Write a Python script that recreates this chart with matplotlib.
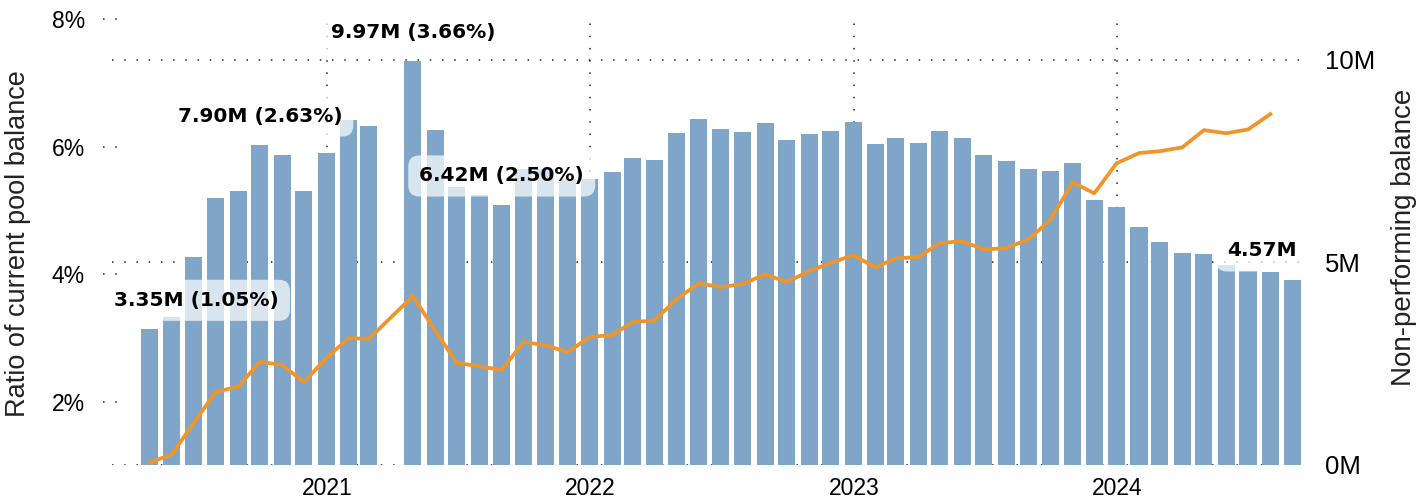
import numpy as np
import pandas as pd
import matplotlib
matplotlib.use('Agg')
import matplotlib.pyplot as plt
import matplotlib.dates as mdates
import matplotlib.transforms as mtransforms

plt.rcParams['font.family'] = ['Liberation Sans', 'DejaVu Sans']

# monthly snapshots (month-end of previous month), Mar 2021 missing
dates = pd.date_range('2020-05-01', '2024-09-01', freq='MS') - pd.Timedelta(days=1)
dates = dates[dates != pd.Timestamp('2021-03-31')]

# non-performing balance, millions
balance = [3.35, 3.65, 5.14, 6.59, 6.77, 7.90, 7.65, 6.77, 7.70, 8.52, 8.37,
           9.97, 8.27, 6.86, 6.67, 6.42, 7.30, 7.30, 7.05, 7.05,
           7.23, 7.58, 7.53, 8.20, 8.54, 8.30, 8.22, 8.44, 8.02, 8.17, 8.25,
           8.47, 7.93, 8.07, 7.95, 8.25, 8.07, 7.65, 7.51, 7.31, 7.26, 7.46, 6.54,
           6.37, 5.88, 5.51, 5.23, 5.21, 4.93, 4.79, 4.77, 4.57]

# ratio of current pool balance, %
ratio = [1.05, 1.18, 1.67, 2.16, 2.24, 2.63, 2.58, 2.31, 2.69, 3.00, 2.99,
         3.66, 3.11, 2.61, 2.56, 2.50, 2.94, 2.89, 2.78, 3.02,
         3.05, 3.25, 3.28, 3.61, 3.86, 3.80, 3.85, 4.00, 3.88, 4.05, 4.18,
         4.30, 4.11, 4.25, 4.27, 4.49, 4.52, 4.39, 4.41, 4.55, 4.85, 5.44, 5.27,
         5.74, 5.90, 5.93, 5.99, 6.26, 6.21, 6.27, 6.51, np.nan]

# annotated points: index, text, x shift in pixels
labels = [(0, '3.35M (1.05%)', 47),
          (5, '7.90M (2.63%)', 0),
          (11, '9.97M (3.66%)', 0),
          (15, '6.42M (2.50%)', 0),
          (51, '4.57M', -31)]

balance = np.array(balance) * 1e6
ratio = np.array(ratio)

bar_color = '#7fa6c8'
line_color = '#f0952a'
dots = (0, (1, 7))

fig = plt.figure(figsize=(14.26, 5.04), dpi=100)
ax = fig.add_axes([112/1426, 1-465/504, (1305-112)/1426, 450/504])
ax2 = ax.twinx()

# bars on main axes (drawn under the line), their scale on the right
ax.bar(dates, balance, width=23.6, color=bar_color, zorder=2)
ax.set_ylim(0, 11.11e6)
ax.set_yticks([0, 5e6, 10e6])
ax.set_yticklabels(['0M', '5M', '10M'])
ax.yaxis.tick_right()
ax.yaxis.set_label_position('right')
ax.set_ylabel('Non-performing balance', fontsize=20, color='#222')
ax.yaxis.set_label_coords(1.072, 0.506)

ax.set_xlim(pd.Timestamp('2021-01-01') - pd.Timedelta(days=298),
            pd.Timestamp('2024-01-01') + pd.Timedelta(days=260))
ax.set_xticks([pd.Timestamp('%d-01-01' % y) for y in range(2021, 2025)])
ax.xaxis.set_major_formatter(mdates.DateFormatter('%Y'))

ax.grid(True, linestyle=dots, color='#222', linewidth=1.1)
ax.set_axisbelow(True)
ax.tick_params(axis='x', length=0, pad=8.5, labelsize=16.5)
ax.tick_params(axis='y', length=0, pad=14.4, labelsize=18.5)

# ratio line on the twin, scale on the left
ax2.plot(dates, ratio, color=line_color, linewidth=2.7, solid_joinstyle='round', zorder=3)
ax2.set_ylim(1.013, 8.063)
ax2.set_yticks([2, 4, 6, 8])
ax2.set_yticklabels(['2%', '4%', '6%', '8%'])
ax2.yaxis.tick_left()
ax2.yaxis.set_label_position('left')
ax2.set_ylabel('Ratio of current pool balance', fontsize=19.5, color='#222')
ax2.yaxis.set_label_coords(-0.068, 0.493)
ax2.tick_params(axis='y', length=0, pad=19.4, labelsize=16.5)

# short dotted ticks for the left scale
trans = mtransforms.blended_transform_factory(ax2.transAxes, ax2.transData)
for t in [2, 4, 6, 8]:
    ax2.plot([-9/1193, 6/1193], [t, t], transform=trans, linestyle=dots,
             color='#222', linewidth=1.1, clip_on=False)

for a in (ax, ax2):
    for s in a.spines.values():
        s.set_visible(False)

for i, txt, dx in labels:
    ax.annotate(txt, xy=(dates[i], balance[i]), xytext=(dx, 29),
                textcoords='offset pixels', ha='center', va='center',
                fontsize=14.5, fontweight='bold', family='DejaVu Sans',
                bbox=dict(boxstyle='round,pad=0.55', fc='white', ec='none', alpha=0.7),
                zorder=4)

fig.savefig('out.png', dpi=100)
